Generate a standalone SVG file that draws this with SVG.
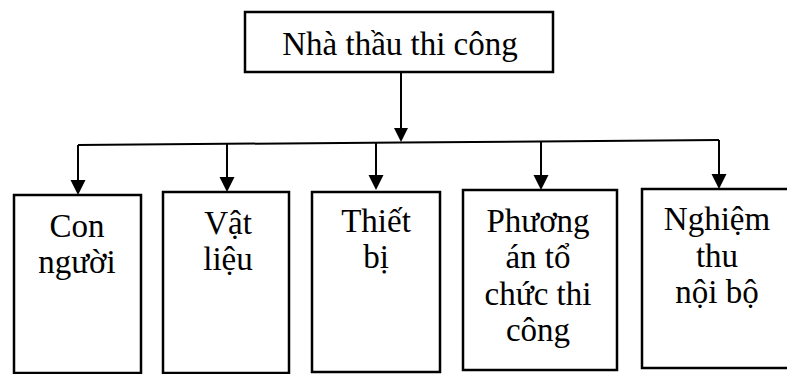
<svg xmlns="http://www.w3.org/2000/svg" width="787" height="374" viewBox="0 0 787 374">
<style>
.box{fill:#fff;stroke:#000;stroke-width:2.5}
.ln{fill:none;stroke:#000;stroke-width:2}
.ah{fill:#000}
text{font-family:"Liberation Serif","Times New Roman",serif;font-size:33px;fill:#000;text-anchor:middle}
</style>
<rect width="787" height="374" fill="#fff"/>
<g id="connectors">
<line class="ln" x1="401" y1="72" x2="401" y2="130"/>
<path class="ah" d="M394,128 L408,128 L401,142 Z"/>
<polyline class="ln" points="78,145 401,142.5 719,140"/>
<line class="ln" x1="78" y1="145" x2="78" y2="182"/>
<path class="ah" d="M70.5,180 L85.5,180 L78,195 Z"/>
<line class="ln" x1="227" y1="144" x2="227" y2="179"/>
<path class="ah" d="M219.5,177 L234.5,177 L227,192 Z"/>
<line class="ln" x1="376" y1="143" x2="376" y2="177"/>
<path class="ah" d="M368.5,175 L383.5,175 L376,190 Z"/>
<line class="ln" x1="541" y1="141" x2="541" y2="177"/>
<path class="ah" d="M533.5,175 L548.5,175 L541,190 Z"/>
<line class="ln" x1="719" y1="140" x2="719" y2="176"/>
<path class="ah" d="M711.5,174 L726.5,174 L719,189 Z"/>
</g>
<g id="n0">
<rect class="box" x="245" y="12" width="308" height="60"/>
<text x="400" y="55">Nhà thầu thi công</text>
</g>
<g id="n1">
<rect class="box" x="14" y="195" width="127" height="178"/>
<text x="77" y="237">Con</text>
<text x="77" y="273">người</text>
</g>
<g id="n2">
<rect class="box" x="163" y="192" width="126" height="181"/>
<text x="228" y="234">Vật</text>
<text x="228" y="270">liệu</text>
</g>
<g id="n3">
<rect class="box" x="312" y="192" width="128" height="180"/>
<text x="376" y="232">Thiết</text>
<text x="376" y="268">bị</text>
</g>
<g id="n4">
<rect class="box" x="463" y="190" width="154" height="180"/>
<text x="538" y="232">Phương</text>
<text x="538" y="268">án tổ</text>
<text x="538" y="305">chức thi</text>
<text x="538" y="341">công</text>
</g>
<g id="n5">
<rect class="box" x="642" y="189" width="150" height="179"/>
<text x="717" y="230">Nghiệm</text>
<text x="717" y="267">thu</text>
<text x="717" y="303">nội bộ</text>
</g>
</svg>
